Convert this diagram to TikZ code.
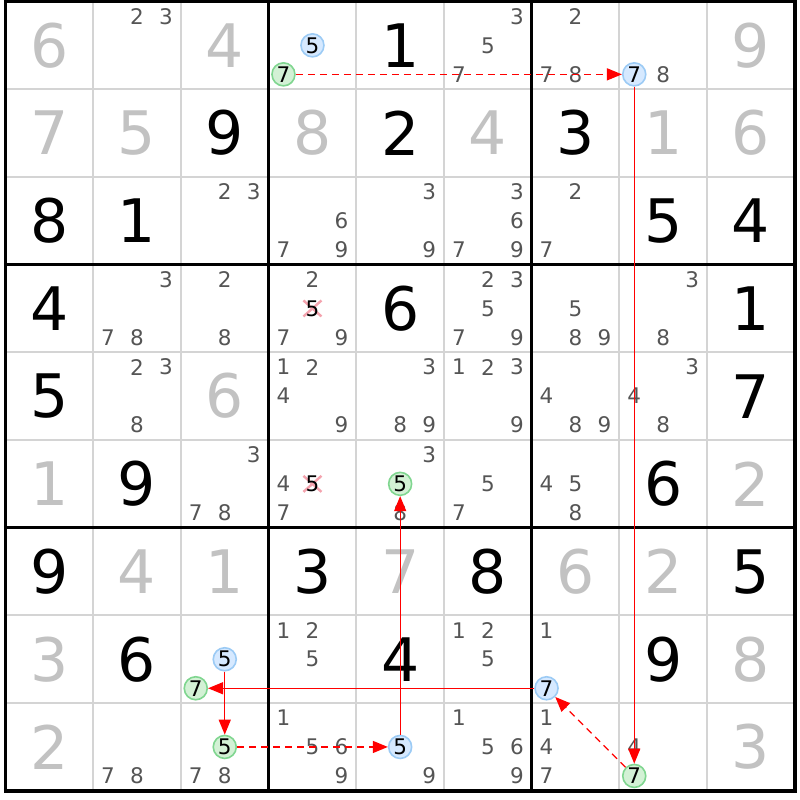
\documentclass[tikz,border=0pt]{standalone}
\usepackage{fontspec}
\setmainfont{DejaVu Sans}
\usetikzlibrary{arrows.meta}
\definecolor{candgray}{HTML}{555555}
\definecolor{solvedgray}{HTML}{C2C2C2}
\definecolor{thingray}{HTML}{D4D4D4}
\definecolor{bluefill}{HTML}{D6E9FF}
\definecolor{blueline}{HTML}{9CCBF5}
\definecolor{greenfill}{HTML}{D3F1D5}
\definecolor{greenline}{HTML}{80D690}
\definecolor{crosspink}{HTML}{F4A3AE}
\tikzset{
  given/.style={inner sep=0pt, font=\fontsize{60}{60}\selectfont, text=black},
  solved/.style={given, text=solvedgray},
  cand/.style={inner sep=0pt, font=\fontsize{21.5}{21.5}\selectfont, text=candgray},
  candk/.style={cand, text=black},
  bluec/.style={candk, circle, draw=blueline, fill=bluefill, line width=1.6pt, minimum size=23pt},
  greenc/.style={candk, circle, draw=greenline, fill=greenfill, line width=1.6pt, minimum size=23pt},
  link/.style={draw=red, line width=1.3pt, -{Triangle[length=15pt,width=12pt]}},
  weak/.style={link, dash pattern=on 7pt off 5pt},
  thinline/.style={draw=thingray, line width=2pt},
  thickline/.style={draw=black, line width=3.5pt},
  crossmark/.style={draw=crosspink, line width=2.4pt}
}
\newcommand\cands[3]{%
  \foreach \d in {#3}{%
    \pgfmathsetmacro\dx{(mod(\d-1,3)-1)*29}%
    \pgfmathsetmacro\dy{(floor((\d-1)/3)-1)*29}%
    \node[cand] (k-#1-#2-\d) at ([shift={(\dx,\dy)}]cell-#1-#2) {\d};}}
\newcommand\cnd[4]{%
  \pgfmathsetmacro\dx{(mod(#4-1,3)-1)*29}%
  \pgfmathsetmacro\dy{(floor((#4-1)/3)-1)*29}%
  \node[#1] (k-#2-#3-#4) at ([shift={(\dx,\dy)}]cell-#2-#3) {#4};}
\newcommand\crossed[3]{%
  \pgfmathsetmacro\dx{(mod(#3-1,3)-1)*29}%
  \pgfmathsetmacro\dy{(floor((#3-1)/3)-1)*29}%
  \draw[crossmark] ([shift={(\dx-9,\dy-8)}]cell-#1-#2) -- ([shift={(\dx+9,\dy+8)}]cell-#1-#2);
  \draw[crossmark] ([shift={(\dx-9,\dy+8)}]cell-#1-#2) -- ([shift={(\dx+9,\dy-8)}]cell-#1-#2);
  \node[candk] (k-#1-#2-#3) at ([shift={(\dx,\dy)}]cell-#1-#2) {#3};}
\newcommand\gv[3]{\node[given] (g-#1-#2) at (cell-#1-#2) {#3};}
\newcommand\sv[3]{\node[solved] (g-#1-#2) at (cell-#1-#2) {#3};}
\begin{document}
\begin{tikzpicture}[x=1pt,y=-1pt]
\useasboundingbox[fill=white] (0,0) rectangle (800,800);
% cell centres
\foreach \r in {1,...,9}{\foreach \c in {1,...,9}{%
  \coordinate (cell-\r-\c) at ({5.5+(\c-0.5)*87.7},{1.5+(\r-0.5)*87.7});}}
% thin grid lines
\foreach \i in {1,2,4,5,7,8}{%
  \draw[thinline] ({5.5+\i*87.7},1.5) -- ({5.5+\i*87.7},790.8);
  \draw[thinline] (5.5,{1.5+\i*87.7}) -- (794.8,{1.5+\i*87.7});}
% thick grid lines
\foreach \i in {0,3,6,9}{%
  \draw[thickline] ({5.5+\i*87.7},0) -- ({5.5+\i*87.7},792.5);
  \draw[thickline] (3.75,{1.5+\i*87.7}) -- (796.5,{1.5+\i*87.7});}
% row 1
\sv{1}{1}{6}\sv{1}{3}{4}\gv{1}{5}{1}\sv{1}{9}{9}
% row 2
\sv{2}{1}{7}\sv{2}{2}{5}\gv{2}{3}{9}\sv{2}{4}{8}\gv{2}{5}{2}\sv{2}{6}{4}\gv{2}{7}{3}\sv{2}{8}{1}\sv{2}{9}{6}
% row 3
\gv{3}{1}{8}\gv{3}{2}{1}\gv{3}{8}{5}\gv{3}{9}{4}
% row 4
\gv{4}{1}{4}\gv{4}{5}{6}\gv{4}{9}{1}
% row 5
\gv{5}{1}{5}\sv{5}{3}{6}\gv{5}{9}{7}
% row 6
\sv{6}{1}{1}\gv{6}{2}{9}\gv{6}{8}{6}\sv{6}{9}{2}
% row 7
\gv{7}{1}{9}\sv{7}{2}{4}\sv{7}{3}{1}\gv{7}{4}{3}\sv{7}{5}{7}\gv{7}{6}{8}\sv{7}{7}{6}\sv{7}{8}{2}\gv{7}{9}{5}
% row 8
\sv{8}{1}{3}\gv{8}{2}{6}\gv{8}{5}{4}\gv{8}{8}{9}\sv{8}{9}{8}
% row 9
\sv{9}{1}{2}\sv{9}{9}{3}
% candidates
\cands{1}{2}{2,3}
\cnd{bluec}{1}{4}{5}\cnd{greenc}{1}{4}{7}
\cands{1}{6}{3,5,7}
\cands{1}{7}{2,7,8}
\cnd{bluec}{1}{8}{7}\cands{1}{8}{8}
\cands{3}{3}{2,3}
\cands{3}{4}{6,7,9}
\cands{3}{5}{3,9}
\cands{3}{6}{3,6,7,9}
\cands{3}{7}{2,7}
\cands{4}{2}{3,7,8}
\cands{4}{3}{2,8}
\cands{4}{4}{2,7,9}\crossed{4}{4}{5}
\cands{4}{6}{2,3,5,7,9}
\cands{4}{7}{5,8,9}
\cands{4}{8}{3,8}
\cands{5}{2}{2,3,8}
\cands{5}{4}{1,2,4,9}
\cands{5}{5}{3,8,9}
\cands{5}{6}{1,2,3,9}
\cands{5}{7}{4,8,9}
\cands{5}{8}{3,4,8}
\cands{6}{3}{3,7,8}
\cands{6}{4}{4,7}\crossed{6}{4}{5}
\cands{6}{5}{3,8}\cnd{greenc}{6}{5}{5}
\cands{6}{6}{5,7}
\cands{6}{7}{4,5,8}
\cnd{bluec}{8}{3}{5}\cnd{greenc}{8}{3}{7}
\cands{8}{4}{1,2,5}
\cands{8}{6}{1,2,5}
\cands{8}{7}{1}\cnd{bluec}{8}{7}{7}
\cands{9}{2}{7,8}
\cnd{greenc}{9}{3}{5}\cands{9}{3}{7,8}
\cands{9}{4}{1,5,6,9}
\cnd{bluec}{9}{5}{5}\cands{9}{5}{9}
\cands{9}{6}{1,5,6,9}
\cands{9}{7}{1,4,7}
\cands{9}{8}{4}\cnd{greenc}{9}{8}{7}
% chain
\draw[weak] (k-1-4-7) -- (k-1-8-7);
\draw[link] (k-1-8-7) -- (k-9-8-7);
\draw[weak] (k-9-8-7) -- (k-8-7-7);
\draw[link] (k-8-7-7) -- (k-8-3-7);
\draw[link] (k-8-3-5) -- (k-9-3-5);
\draw[weak] (k-9-3-5) -- (k-9-5-5);
\draw[link] (k-9-5-5) -- (k-6-5-5);
\end{tikzpicture}
\end{document}
